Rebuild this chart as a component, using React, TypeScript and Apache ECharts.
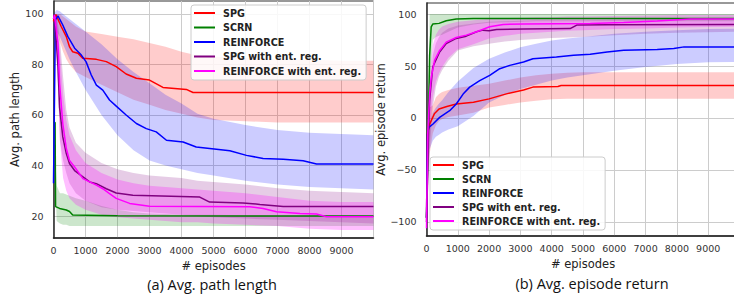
import React, { useEffect, useRef } from "react";
import * as echarts from "echarts";

const SERIES_NAMES = ["SPG", "SCRN", "REINFORCE", "SPG with ent. reg.", "REINFORCE with ent. reg."];
const COLORS = ["#ff0000", "#008000", "#0000ff", "#800080", "#ff00ff"];
const BAND_COLORS = [
  "rgba(255,0,0,0.2)",
  "rgba(0,128,0,0.2)",
  "rgba(0,0,255,0.2)",
  "rgba(128,0,128,0.2)",
  "rgba(255,0,255,0.25)",
];

const PATH_TICKS = [20, 40, 60, 80, 100];
const RETURN_TICKS = [-100, -50, 0, 50, 100];

const BAND_EPISODES = [0, 100, 200, 300, 400, 500, 700, 1000, 1500, 2000, 2500, 3000, 3500, 4000, 4500, 5000, 6000, 7000, 8000, 9000, 10000];

// ---- (a) Avg. path length: mean curves [episode, value]
const pathSPG = [[0, 97], [30, 99], [80, 99.6], [240, 95], [400, 91], [500, 87], [600, 85], [760, 84.4], [920, 82.4], [1340, 82], [1650, 81.1], [1960, 79.1], [2270, 76.2], [2590, 74.5], [3000, 73.8], [3420, 70.9], [4150, 70.1], [4360, 68.9], [10000, 68.9]];
const pathSCRN = [[0, 57], [50, 57], [65, 23.7], [190, 23], [400, 22.4], [500, 21.8], [600, 20.4], [2000, 20.1], [10000, 20]];
const pathREINFORCE = [[0, 33], [60, 97.6], [140, 99.2], [290, 95.6], [450, 91], [660, 86.4], [870, 83.7], [1020, 81], [1180, 75.8], [1340, 71.8], [1540, 69.8], [1750, 65.9], [1960, 63.5], [2270, 60], [2590, 56.6], [2900, 54.6], [3210, 53.3], [3530, 50], [4050, 49.3], [4460, 47.3], [4880, 46.7], [5090, 46.4], [5510, 45.8], [6030, 44], [6550, 42.8], [7180, 42.5], [7800, 41.9], [8220, 40.6], [10000, 40.6]];
const pathSPGEnt = [[0, 98], [30, 99.6], [140, 79], [190, 63], [290, 51.3], [400, 44.7], [500, 40.8], [660, 38], [920, 35.5], [1130, 33.5], [1340, 32.8], [1650, 30.8], [1960, 29.1], [2480, 28.2], [4570, 27.5], [4880, 25.5], [5920, 25.2], [6450, 24.6], [7180, 23.8], [10000, 23.8]];
const pathREINFORCEEnt = [[0, 98], [30, 99.6], [140, 88.4], [190, 72.5], [290, 56.6], [400, 46.7], [500, 42], [660, 39.4], [920, 34.8], [1130, 33.5], [1340, 32.2], [1540, 30.8], [1750, 28.9], [1960, 27], [2380, 25], [3000, 23.9], [6130, 23.7], [6550, 23], [6970, 21.7], [7700, 21], [8220, 20.8], [8530, 19.7], [10000, 19.7]];

// ---- (a) bands at BAND_EPISODES
const pathSPGHi = [100, 100, 100, 99, 98, 97, 95, 93, 92, 91, 90, 88.5, 87, 85, 83.5, 83, 82.5, 82, 81.8, 81.5, 81.5];
const pathSPGLo = [97, 93, 89, 85, 82, 80, 77, 75, 72, 69, 66, 64, 62, 60.5, 59, 58, 57.5, 57, 57, 57, 57];
const pathSCRNHi = [60, 32, 29, 29, 28.5, 28, 27, 26, 24, 22.5, 21.5, 21, 20.8, 20.5, 20.5, 20.5, 20.3, 20.2, 20.2, 20.2, 20.2];
const pathSCRNLo = [50, 18, 17, 16.5, 16.5, 16, 16, 16, 16, 16, 16, 16, 16, 16, 16, 16, 16, 16, 16, 16, 16];
const pathREINFORCEHi = [100, 101.5, 101, 100, 99, 98, 96, 93, 88, 82, 77, 72.5, 68, 64.5, 60.5, 58.5, 56, 54, 53, 52.5, 52];
const pathREINFORCELo = [90, 93, 91, 88, 85, 82, 77, 70, 60, 52, 46, 42, 40, 38.5, 37, 36, 34, 32.5, 31.5, 31, 30.5];
const pathSPGEntHi = [100, 100, 90, 75, 62, 55, 49, 45, 41, 38.5, 37, 36, 35.5, 35, 34, 33.5, 32.5, 31, 30, 29.5, 29];
const pathSPGEntLo = [97, 88, 50, 42, 37, 33, 29, 26, 23.5, 22.5, 22, 21.5, 21, 20.5, 20, 19.5, 19, 18.5, 18, 17.5, 17];
const pathREINFORCEEntHi = [100, 97, 85, 68, 58, 52, 46, 41, 37, 34.5, 33, 32, 31.5, 31, 30.5, 30, 29, 27.5, 26, 25.5, 25.5];
const pathREINFORCEEntLo = [95, 85, 50, 35, 30, 27, 24.5, 22.5, 20.5, 19.5, 19, 18.5, 18, 17.5, 17.5, 17, 16.5, 16, 15, 14.5, 14.5];

// ---- (b) Avg. episode return: mean curves
const retSPG = [[0, -96], [30, -15], [100, -6], [250, 4], [400, 8.7], [650, 11], [950, 13.5], [1500, 15.2], [2000, 18.4], [2550, 23.2], [3100, 27], [3400, 29.7], [4200, 30.3], [4300, 31.3], [10000, 31.3]];
const retSCRN = [[0, -96], [50, -20], [100, 60], [150, 87.7], [200, 90.3], [400, 91], [630, 93.5], [950, 95.2], [1500, 95.8], [10000, 95.8]];
const retREINFORCE = [[0, -96], [30, -15.5], [75, -9], [200, -6], [420, 0.6], [740, 7], [950, 13.5], [1170, 23], [1380, 29.7], [1700, 36], [2020, 41], [2340, 47.4], [2660, 50.6], [3100, 53.9], [3400, 57], [4150, 58.7], [4700, 60.3], [5230, 61.3], [5770, 63.5], [6300, 65.2], [7370, 65.8], [7900, 66.8], [8230, 68.4], [10000, 68.4]];
const retSPGEnt = [[0, -100], [50, -30], [100, 16.8], [200, 49], [420, 63.5], [630, 71.6], [950, 76.5], [1270, 78.7], [1600, 83], [1800, 84.5], [2000, 83.9], [2240, 85.2], [3100, 85.5], [4590, 86], [4800, 89.4], [5800, 89.7], [10000, 90]];
const retREINFORCEEnt = [[0, -106], [40, -15], [100, 23], [150, 39], [260, 55.5], [420, 65], [630, 73], [950, 77.4], [1270, 79.7], [1600, 83], [2020, 87.7], [2450, 90], [3100, 90.3], [5230, 91], [6300, 91.9], [7370, 93.2], [8440, 95.2], [10000, 95.2]];

// ---- (b) bands
const retSPGHi = [-85, 10, 12, 20, 23, 25, 27, 29, 31, 33, 36, 39, 41, 42.5, 43.5, 44, 44, 44, 44, 44, 44];
const retSPGLo = [-105, -35, -15, -7, -3, -1, 1, 2.5, 5, 10, 12.5, 15, 16.5, 18, 18.5, 18.5, 18.5, 18.5, 18.5, 18.5, 18.5];
const retSCRNHi = [-92, 100, 100, 100, 100, 100, 100, 100, 100, 100, 100, 100, 100, 100, 100, 100, 100, 100, 100, 100, 100];
const retSCRNLo = [-100, 20, 75, 78, 79, 80, 83, 87, 90, 91.5, 92, 92.5, 93, 93, 93, 93, 93, 93, 93, 93, 93];
const retREINFORCEHi = [-85, -5, 5, 10, 14, 17, 25, 35, 48, 57, 63, 68, 71.5, 74.5, 76.5, 78, 81, 83, 84.5, 85.5, 86];
const retREINFORCELo = [-110, -30, -22, -18, -16, -14, -11, -8, 2, 15, 22, 28, 32, 36, 39, 41, 45.5, 49, 52, 53.5, 54];
const retSPGEntHi = [-80, 20, 60, 72, 78, 82, 86, 89, 91, 92.5, 93, 93.5, 94, 94, 94, 94, 94.5, 95, 95.5, 95.8, 96];
const retSPGEntLo = [-110, -30, 10, 30, 40, 46, 55, 65, 69, 71.5, 73.5, 75, 76, 77, 77.5, 78, 79.5, 81, 82, 82.5, 83];
const retREINFORCEEntHi = [-80, 40, 70, 80, 85, 88, 90.5, 92.5, 94, 95.5, 96, 96.5, 97, 97, 97.5, 97.5, 98, 98.5, 99, 99, 99];
const retREINFORCEEntLo = [-110, -10, 20, 35, 43, 49, 58, 66, 71, 76.5, 79, 81, 82, 83, 84, 84.5, 85.5, 86, 87, 87.5, 87.7];

const PATH_LINES = [pathSPG, pathSCRN, pathREINFORCE, pathSPGEnt, pathREINFORCEEnt];
const PATH_BANDS = [
  [pathSPGLo, pathSPGHi],
  [pathSCRNLo, pathSCRNHi],
  [pathREINFORCELo, pathREINFORCEHi],
  [pathSPGEntLo, pathSPGEntHi],
  [pathREINFORCEEntLo, pathREINFORCEEntHi],
];
const RET_LINES = [retSPG, retSCRN, retREINFORCE, retSPGEnt, retREINFORCEEnt];
const RET_BANDS = [
  [retSPGLo, retSPGHi],
  [retSCRNLo, retSCRNHi],
  [retREINFORCELo, retREINFORCEHi],
  [retSPGEntLo, retSPGEntHi],
  [retREINFORCEEntLo, retREINFORCEEntHi],
];

const TICK_FONT = { fontFamily: "DejaVu Sans", fontSize: 9.5, color: "#333" };
const NAME_FONT = { fontFamily: "DejaVu Sans", fontSize: 11.5, color: "#222" };
const minus = (v: number) => (v < 0 ? "\u2212" + Math.abs(v) : String(v));

function bandSeries(key: string, axis: number, lo: number[], hi: number[], color: string) {
  const rows = BAND_EPISODES.map((e, i) => [e, lo[i], hi[i]]);
  return {
    type: "custom",
    name: key,
    xAxisIndex: axis,
    yAxisIndex: axis,
    silent: true,
    z: 1,
    data: rows,
    encode: { x: 0, y: [1, 2] },
    renderItem: (params: any, api: any) => {
      if (params.dataIndex !== 0) return null;
      const top = rows.map((r) => api.coord([r[0], r[2]]));
      const bottom = rows.map((r) => api.coord([r[0], r[1]])).reverse();
      return {
        type: "polygon",
        shape: { points: top.concat(bottom) },
        style: { fill: color, stroke: "none" },
      };
    },
  };
}

function lineSeries(name: string, axis: number, data: number[][], color: string) {
  return {
    type: "line",
    name,
    xAxisIndex: axis,
    yAxisIndex: axis,
    data,
    symbol: "none",
    z: 3,
    color,
    lineStyle: { width: 1.5, color },
    itemStyle: { color },
  };
}

function legendAt(left: number, top: number, gap: number) {
  return {
    data: SERIES_NAMES,
    orient: "vertical",
    left,
    top,
    icon: "rect",
    itemWidth: 21,
    itemHeight: 2,
    itemGap: gap,
    padding: [2, 5, 3, 3],
    backgroundColor: "rgba(255,255,255,0.85)",
    borderColor: "#cccccc",
    borderWidth: 1,
    borderRadius: 3,
    selectedMode: false,
    textStyle: {
      fontFamily: "DejaVu Sans",
      fontWeight: "bold",
      fontSize: 9.6,
      color: "#222",
      lineHeight: 12,
      padding: [0, 0, 0, 3],
    },
  };
}

function xAxis(grid: number) {
  return {
    type: "value",
    gridIndex: grid,
    min: 0,
    max: 10000,
    interval: 1000,
    name: "# episodes",
    nameLocation: "middle",
    nameGap: 19,
    nameTextStyle: NAME_FONT,
    axisLine: { show: true, onZero: false, lineStyle: { color: "#222", width: 1.5 } },
    axisTick: { show: false },
    axisLabel: { ...TICK_FONT, margin: 7, showMaxLabel: false, formatter: (v: number) => String(v) },
    splitLine: { show: true, lineStyle: { color: "#cccccc", width: 1 } },
  };
}

export default function App() {
  const ref = useRef<HTMLDivElement>(null);
  useEffect(() => {
    if (!ref.current) return;
    const chart = echarts.init(ref.current, null, { renderer: "svg" });
    const series: any[] = [];
    PATH_BANDS.forEach((b, i) => series.push(bandSeries("pb" + i, 0, b[0], b[1], BAND_COLORS[i])));
    RET_BANDS.forEach((b, i) => series.push(bandSeries("rb" + i, 1, b[0], b[1], BAND_COLORS[i])));
    PATH_LINES.forEach((d, i) => series.push(lineSeries(SERIES_NAMES[i], 0, d, COLORS[i])));
    RET_LINES.forEach((d, i) => series.push(lineSeries(SERIES_NAMES[i], 1, d, COLORS[i])));

    const option: any = {
      animation: false,
      grid: [
        { left: 53.5, top: 1, width: 320, height: 237, show: true, borderColor: "#333", borderWidth: 1, backgroundColor: "#fff" },
        { left: 426.5, top: 3, width: 313, height: 233, show: true, borderColor: "#333", borderWidth: 1, backgroundColor: "#fff" },
      ],
      xAxis: [xAxis(0), xAxis(1)],
      yAxis: [
        {
          type: "value",
          gridIndex: 0,
          min: 11.3,
          max: 105.1,
          name: "Avg. path length",
          nameLocation: "middle",
          nameGap: 32,
          nameTextStyle: NAME_FONT,
          axisLine: { show: true, onZero: false, lineStyle: { color: "#222", width: 1.5 } },
          axisTick: { show: false, customValues: PATH_TICKS },
          axisLabel: { ...TICK_FONT, margin: 10, customValues: PATH_TICKS },
          splitLine: { show: true, lineStyle: { color: "#cccccc", width: 1 } },
        },
        {
          type: "value",
          gridIndex: 1,
          min: -113.5,
          max: 110.6,
          name: "Avg. episode return",
          nameLocation: "middle",
          nameGap: 38,
          nameTextStyle: NAME_FONT,
          axisLine: { show: true, onZero: false, lineStyle: { color: "#222", width: 1.5 } },
          axisTick: { show: false, customValues: RETURN_TICKS },
          axisLabel: { ...TICK_FONT, margin: 10, customValues: RETURN_TICKS, formatter: minus },
          splitLine: { show: true, lineStyle: { color: "#cccccc", width: 1 } },
        },
      ],
      legend: [legendAt(191, 5, 2.5), legendAt(430, 157, 2)],
      graphic: [
        {
          type: "text",
          x: 212,
          y: 284,
          style: { text: "(a) Avg. path length", font: "14.5px 'Open Sans'", fill: "#111", textAlign: "center", textVerticalAlign: "middle" },
        },
        {
          type: "text",
          x: 592,
          y: 283,
          style: { text: "(b) Avg. episode return", font: "14.5px 'Open Sans'", fill: "#111", textAlign: "center", textVerticalAlign: "middle" },
        },
      ],
      series,
    };
    chart.setOption(option);
    return () => chart.dispose();
  }, []);

  return (
    <div style={{ position: "absolute", left: 0, top: 0, width: 734, height: 300, overflow: "hidden", background: "#fff" }}>
      <div ref={ref} style={{ width: 745, height: 300 }} />
    </div>
  );
}
